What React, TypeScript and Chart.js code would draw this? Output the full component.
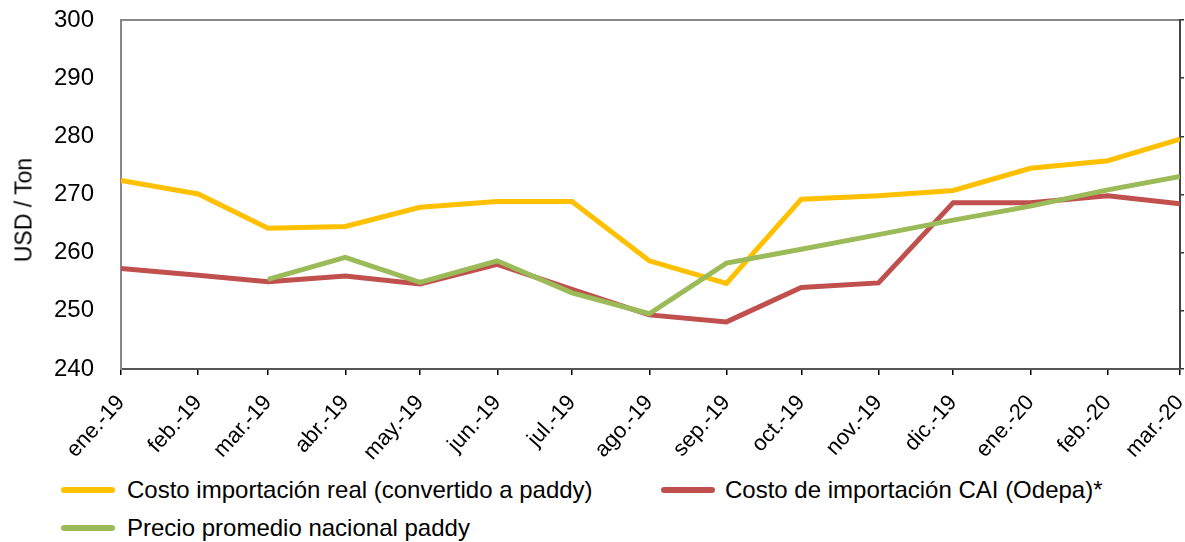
import React, { useEffect, useRef } from "react";
import { Chart, registerables } from "chart.js";

Chart.register(...registerables);

const monthLabels = [
  "ene.-19", "feb.-19", "mar.-19", "abr.-19", "may.-19", "jun.-19", "jul.-19",
  "ago.-19", "sep.-19", "oct.-19", "nov.-19", "dic.-19", "ene.-20", "feb.-20", "mar.-20",
];
const monthDates = [
  "2019-01-01", "2019-02-01", "2019-03-01", "2019-04-01", "2019-05-01", "2019-06-01", "2019-07-01",
  "2019-08-01", "2019-09-01", "2019-10-01", "2019-11-01", "2019-12-01", "2020-01-01", "2020-02-01", "2020-03-01",
];
const costoReal = [272.4, 270.1, 264.2, 264.5, 267.8, 268.8, 268.8, 258.6, 254.7, 269.2, 269.8, 270.7, 274.5, 275.8, 279.5];
const costoCAI = [257.3, 256.1, 255.0, 256.0, 254.6, 258.0, 253.7, 249.3, 248.1, 254.0, 254.8, 268.6, 268.6, 269.8, 268.4];
const precioNacional = [null, null, 255.4, 259.2, 254.9, 258.6, 253.1, 249.5, 258.2, 260.6, 263.1, 265.6, 268.0, 270.8, 273.1];
const yTicks = [240, 250, 260, 270, 280, 290, 300];
const yTitle = "USD / Ton";

const seriesNames = [
  "Costo importación real (convertido a paddy)",
  "Costo de importación CAI (Odepa)*",
  "Precio promedio nacional paddy",
];
const seriesColors = ["#FFC000", "#C0504D", "#9BBB59"];

const FONT = "'Liberation Sans', Arial, sans-serif";
const W = 1185;
const H = 470;
const PLOT_LEFT = 121;
const PLOT_RIGHT = 1180;
const PLOT_TOP = 20;
const PLOT_BOTTOM = 369;

const dayOf = (s: string) => {
  const [y, m, d] = s.split("-").map(Number);
  return Date.UTC(y, m - 1, d) / 86400000;
};
const day0 = dayOf(monthDates[0]);
const xDays = monthDates.map((d) => dayOf(d) - day0);

const toPoints = (vals: (number | null)[]) =>
  vals.map((v, i) => ({ x: xDays[i], y: v }));

const zeroVPad = (s: any) => {
  s.paddingTop = 0;
  s.paddingBottom = 0;
};

export default function App() {
  const ref = useRef<HTMLCanvasElement>(null);

  useEffect(() => {
    document.body.style.margin = "0";
    const ctx = ref.current!;
    const chart = new Chart(ctx, {
      type: "line",
      data: {
        datasets: [
          {
            label: seriesNames[2],
            data: toPoints(precioNacional) as any,
            borderColor: seriesColors[2],
            backgroundColor: seriesColors[2],
            borderWidth: 5,
            pointRadius: 0,
            tension: 0,
            spanGaps: false,
          },
          {
            label: seriesNames[1],
            data: toPoints(costoCAI) as any,
            borderColor: seriesColors[1],
            backgroundColor: seriesColors[1],
            borderWidth: 5,
            pointRadius: 0,
            tension: 0,
          },
          {
            label: seriesNames[0],
            data: toPoints(costoReal) as any,
            borderColor: seriesColors[0],
            backgroundColor: seriesColors[0],
            borderWidth: 5,
            pointRadius: 0,
            tension: 0,
          },
        ],
      },
      options: {
        animation: false,
        responsive: false,
        maintainAspectRatio: false,
        layout: { padding: 0 },
        plugins: { legend: { display: false }, tooltip: { enabled: false } },
        scales: {
          x: {
            type: "linear",
            position: "bottom",
            min: xDays[0],
            max: xDays[xDays.length - 1],
            afterBuildTicks: (s: any) => {
              s.ticks = xDays.map((v) => ({ value: v }));
            },
            afterFit: (s: any) => {
              s.height = H - PLOT_BOTTOM;
              s.paddingLeft = 0;
              s.paddingRight = 0;
            },
            ticks: {
              autoSkip: false,
              maxRotation: 48,
              minRotation: 48,
              padding: 15,
              color: "#000",
              font: { family: FONT, size: 22 },
              callback: (v: any) => {
                const i = xDays.indexOf(Number(v));
                return i >= 0 ? monthLabels[i] : "";
              },
            },
            grid: { drawOnChartArea: false, drawTicks: true, tickLength: 6, color: "#000", lineWidth: 1.5 },
            border: { display: true, color: "#555", width: 2 },
          },
          xTop: {
            type: "linear",
            position: "top",
            min: 0,
            max: 1,
            afterFit: (s: any) => {
              s.height = PLOT_TOP;
              s.paddingLeft = 0;
              s.paddingRight = 0;
            },
            ticks: { display: false },
            grid: { display: false, drawTicks: false },
            border: { display: true, color: "#888", width: 2 },
          },
          y: {
            type: "linear",
            position: "left",
            min: yTicks[0],
            max: yTicks[yTicks.length - 1],
            afterBuildTicks: (s: any) => {
              s.ticks = yTicks.map((v) => ({ value: v }));
            },
            afterFit: (s: any) => {
              s.width = PLOT_LEFT;
              zeroVPad(s);
            },
            ticks: {
              color: "#000",
              padding: 27,
              font: { family: FONT, size: 24 },
            },
            grid: { drawOnChartArea: false, drawTicks: false },
            border: { display: true, color: "#888", width: 2 },
          },
          yRight: {
            type: "linear",
            position: "right",
            min: yTicks[0],
            max: yTicks[yTicks.length - 1],
            afterBuildTicks: (s: any) => {
              s.ticks = yTicks.map((v) => ({ value: v }));
            },
            afterFit: (s: any) => {
              s.width = W - PLOT_RIGHT;
              zeroVPad(s);
            },
            ticks: { display: false },
            grid: { drawOnChartArea: false, drawTicks: true, tickLength: 4, color: "#333", lineWidth: 1.5 },
            border: { display: true, color: "#444", width: 2 },
          },
        },
      },
    });
    return () => chart.destroy();
  }, []);

  const legendItem = (i: number, left: number, top: number, textLeft: number) => (
    <div key={i} style={{ position: "absolute", left, top, height: 30, display: "flex", alignItems: "center" }}>
      <div style={{ width: 54, height: 6, borderRadius: 3, background: seriesColors[i] }} />
      <span style={{ position: "absolute", left: textLeft - left, whiteSpace: "nowrap", fontFamily: FONT, fontSize: 24, color: "#000" }}>
        {seriesNames[i]}
      </span>
    </div>
  );

  return (
    <div style={{ position: "relative", width: W, height: 542, background: "#fff" }}>
      <canvas ref={ref} width={W} height={H} style={{ display: "block", width: W, height: H }} />
      <div
        style={{
          position: "absolute",
          left: 24,
          top: 210,
          transform: "translate(-50%, -50%) rotate(-90deg)",
          whiteSpace: "nowrap",
          fontFamily: FONT,
          fontSize: 23,
          color: "#000",
          lineHeight: 1,
        }}
      >
        {yTitle}
      </div>
      {legendItem(0, 61, 475, 127)}
      {legendItem(1, 661, 475, 725)}
      {legendItem(2, 61, 513, 127)}
    </div>
  );
}
